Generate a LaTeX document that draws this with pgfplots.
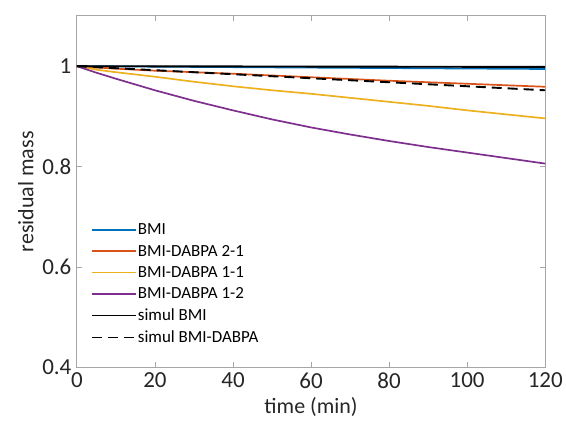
\documentclass[border=0pt]{standalone}
\usepackage{fontspec}
\setmainfont{Carlito}
\usepackage{pgfplots}
\pgfplotsset{compat=1.18}
\definecolor{mblue}{rgb}{0,0.447,0.741}
\definecolor{morange}{rgb}{0.85,0.325,0.098}
\definecolor{myellow}{rgb}{0.929,0.694,0.125}
\definecolor{mpurple}{rgb}{0.494,0.184,0.556}
\definecolor{axgray}{RGB}{166,166,166}
\definecolor{txt}{RGB}{38,38,38}
\begin{document}
\begin{tikzpicture}
\begin{axis}[
  scale only axis,
  width=469pt, height=352pt,
  xmin=0, xmax=120, ymin=0.4, ymax=1.1,
  xtick={0,20,...,120}, ytick={0.4,0.6,0.8,1},
  yticklabels={0.4,0.6,0.8,1},
  tick align=inside,
  major tick length=5pt,
  axis line style={axgray, line width=1pt},
  every tick/.style={axgray, line width=0.8pt},
  tick label style={font=\fontsize{23}{27}\selectfont, text=txt},
  xticklabel style={yshift=-2pt},
  yticklabel style={xshift=-2pt},
  /pgf/number format/assume math mode=true,
  xlabel={time (min)}, ylabel={residual mass},
  label style={font=\fontsize{22}{26}\selectfont, text=txt},
  xlabel style={yshift=-2pt},
  ylabel style={yshift=2pt},
  clip=false,
  legend style={draw=none, fill=none, at={(rel axis cs:0.03,0.412)}, anchor=north west,
    font=\fontsize{17}{20}\selectfont, text=black, row sep=6.8pt, inner sep=0pt,
    nodes={inner sep=1pt}},
  legend cell align=left,
  legend image code/.code={\draw[#1] (0pt,0pt) -- (44pt,0pt);},
]
\addplot[mblue, line width=1.8pt] coordinates {(0,1) (120,0.9945)};
\addlegendentry{BMI}
\addplot[morange, line width=1.7pt] coordinates {(0,1) (10,0.995) (20,0.991) (40,0.985) (60,0.978) (80,0.971) (100,0.965) (120,0.959)};
\addlegendentry{BMI-DABPA 2-1}
\addplot[myellow, line width=1.7pt] coordinates {(0,1) (5,0.993) (10,0.988) (20,0.979) (30,0.969) (40,0.960) (50,0.952) (60,0.945) (70,0.937) (80,0.929) (90,0.921) (100,0.912) (110,0.904) (120,0.896)};
\addlegendentry{BMI-DABPA 1-1}
\addplot[mpurple, line width=1.7pt] coordinates {(0,1) (5,0.987) (10,0.975) (20,0.952) (30,0.931) (40,0.912) (50,0.894) (60,0.878) (70,0.864) (80,0.851) (90,0.839) (100,0.828) (110,0.817) (120,0.806)};
\addlegendentry{BMI-DABPA 1-2}
\addplot[black, line width=1.9pt] coordinates {(0,1) (120,0.9985)};
\addlegendentry{simul BMI}
\addplot[black, line width=1.9pt, dash pattern=on 10pt off 6pt] coordinates {(0,1) (10,0.996) (20,0.992) (40,0.984) (60,0.976) (80,0.968) (100,0.960) (120,0.952)};
\addlegendentry{simul BMI-DABPA}
\path (rel axis cs:-0.16418,-0.17614) rectangle (rel axis cs:1.04264,1.04545);
\end{axis}
\end{tikzpicture}
\end{document}
